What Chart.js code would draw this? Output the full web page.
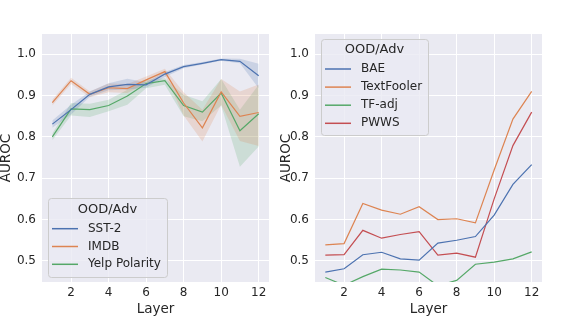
<!DOCTYPE html>
<html>
<head>
<meta charset="utf-8">
<script src="https://cdn.jsdelivr.net/npm/chart.js@4.4.0/dist/chart.umd.min.js"></script>
<style>
  body { margin: 0; background: #fff; }
  #wrap { position: relative; width: 568px; height: 318px; }
  canvas { position: absolute; top: 0; }
</style>
</head>
<body>
<div id="wrap">
  <canvas id="leftChart" width="284" height="318" style="left:0"></canvas>
  <canvas id="rightChart" width="288" height="318" style="left:280px"></canvas>
</div>
<script>
const layers = [1, 2, 3, 4, 5, 6, 7, 8, 9, 10, 11, 12];
const xTicks = [2, 4, 6, 8, 10, 12];
const yTicks = [0.5, 0.6, 0.7, 0.8, 0.9, 1.0];

// left panel: OOD datasets (mean + band)
const sst2   = [0.831, 0.866, 0.903, 0.921, 0.927, 0.926, 0.952, 0.970, 0.978, 0.987, 0.983, 0.948];
const sst2Lo = [0.822, 0.854, 0.897, 0.913, 0.915, 0.919, 0.945, 0.966, 0.975, 0.984, 0.978, 0.918];
const sst2Hi = [0.840, 0.878, 0.910, 0.930, 0.941, 0.932, 0.957, 0.974, 0.981, 0.990, 0.989, 0.977];
const imdb   = [0.883, 0.936, 0.903, 0.919, 0.917, 0.938, 0.958, 0.882, 0.822, 0.909, 0.850, 0.859];
const imdbLo = [0.876, 0.928, 0.896, 0.908, 0.906, 0.930, 0.950, 0.852, 0.789, 0.878, 0.790, 0.778];
const imdbHi = [0.890, 0.943, 0.910, 0.929, 0.928, 0.946, 0.965, 0.908, 0.866, 0.940, 0.910, 0.927];
const yelp   = [0.800, 0.868, 0.866, 0.876, 0.899, 0.929, 0.936, 0.876, 0.860, 0.906, 0.815, 0.856];
const yelpLo = [0.792, 0.852, 0.848, 0.862, 0.878, 0.918, 0.926, 0.850, 0.838, 0.876, 0.728, 0.777];
const yelpHi = [0.808, 0.882, 0.880, 0.890, 0.914, 0.938, 0.942, 0.902, 0.886, 0.940, 0.866, 0.926];

// right panel: adversarial attacks
const bae        = [0.473, 0.481, 0.515, 0.521, 0.505, 0.502, 0.543, 0.550, 0.559, 0.611, 0.685, 0.733];
const textFooler = [0.539, 0.542, 0.639, 0.623, 0.613, 0.631, 0.600, 0.602, 0.592, 0.720, 0.843, 0.910];
const tfAdj      = [0.460, 0.441, 0.462, 0.480, 0.478, 0.473, 0.440, 0.453, 0.492, 0.497, 0.505, 0.522];
const pwws       = [0.514, 0.515, 0.574, 0.555, 0.564, 0.571, 0.514, 0.519, 0.509, 0.650, 0.779, 0.860];

const leftNames = ['SST-2', 'IMDB', 'Yelp Polarity'];
const rightNames = ['BAE', 'TextFooler', 'TF-adj', 'PWWS'];

const colors = ['#4C72B0', '#DD8452', '#55A868', '#C44E52'];
const textColor = '#262626';
const FONT = "'DejaVu Sans', sans-serif";

function rgba(hex, a) {
    const n = parseInt(hex.slice(1), 16);
    return `rgba(${(n >> 16) & 255},${(n >> 8) & 255},${n & 255},${a})`;
}

function pts(vals) {
    return vals.map((v, i) => ({ x: layers[i], y: v }));
}

// paint the seaborn-like grey plot area
const areaBg = {
    id: 'areaBg',
    beforeDraw(chart) {
        const { ctx, chartArea: a } = chart;
        ctx.save();
        ctx.fillStyle = '#EAEAF2';
        ctx.fillRect(a.left, a.top, a.right - a.left, a.bottom - a.top);
        ctx.restore();
    }
};

// legend drawn inside the plot area, matplotlib style
const boxLegend = {
    id: 'boxLegend',
    afterDraw(chart, args, opts) {
        const { ctx } = chart;
        ctx.save();
        ctx.fillStyle = 'rgba(234,234,242,0.8)';
        ctx.strokeStyle = '#cccccc';
        ctx.lineWidth = 1;
        ctx.beginPath();
        ctx.roundRect(opts.x + 0.5, opts.y + 0.5, opts.w, opts.h, 3);
        ctx.fill();
        ctx.stroke();
        ctx.fillStyle = textColor;
        ctx.textBaseline = 'middle';
        ctx.textAlign = 'center';
        ctx.font = `13px ${FONT}`;
        ctx.fillText(opts.title, opts.x + opts.w / 2, opts.titleY);
        ctx.textAlign = 'left';
        ctx.font = `12px ${FONT}`;
        opts.items.forEach((name, i) => {
            const y = opts.firstY + i * opts.step;
            ctx.strokeStyle = colors[i];
            ctx.lineWidth = 1.5;
            ctx.beginPath();
            ctx.moveTo(opts.x + 4, y);
            ctx.lineTo(opts.x + 30, y);
            ctx.stroke();
            ctx.fillText(name, opts.x + 40, y);
        });
        ctx.restore();
    }
};

function makeChart(id, names, series, bands, axisWidth, padRight, legend) {
    const datasets = [];
    bands.forEach((b, i) => {
        const loIndex = datasets.length + 1;
        datasets.push({
            data: pts(b[1]), fill: loIndex, backgroundColor: rgba(colors[i], 0.2),
            borderWidth: 0, pointRadius: 0, clip: 0
        });
        datasets.push({ data: pts(b[0]), fill: false, borderWidth: 0, pointRadius: 0, clip: 0 });
    });
    series.forEach((s, i) => {
        datasets.push({
            label: names[i], data: pts(s), borderColor: colors[i], borderWidth: 1.2,
            pointRadius: 0, fill: false, tension: 0, clip: 0
        });
    });

    return new Chart(document.getElementById(id), {
        type: 'line',
        data: { datasets: datasets },
        options: {
            responsive: false,
            animation: false,
            layout: { padding: { top: 34, right: padRight, left: 0, bottom: 0 } },
            plugins: {
                legend: { display: false },
                tooltip: { enabled: false },
                filler: { drawTime: 'beforeDatasetsDraw' },
                boxLegend: legend
            },
            scales: {
                x: {
                    type: 'linear', min: 0.45, max: 12.55,
                    afterBuildTicks: s => { s.ticks = xTicks.map(v => ({ value: v })); },
                    afterFit: s => { s.height = 36; },
                    grid: { color: '#ffffff', lineWidth: 1, drawTicks: false },
                    border: { display: false },
                    ticks: { color: textColor, padding: 4, maxRotation: 0, font: { family: FONT, size: 12 },
                             callback: v => String(v) },
                    title: { display: true, text: 'Layer', color: textColor,
                             padding: { top: 0, bottom: 2 }, font: { family: FONT, size: 13.5, lineHeight: 1 } }
                },
                y: {
                    type: 'linear', min: 0.449, max: 1.049,
                    afterBuildTicks: s => { s.ticks = yTicks.map(v => ({ value: v })); },
                    afterFit: s => { s.width = axisWidth; },
                    grid: { color: '#ffffff', lineWidth: 1, drawTicks: false },
                    border: { display: false },
                    ticks: { color: textColor, padding: 6, font: { family: FONT, size: 12 },
                             callback: v => v.toFixed(1) },
                    title: { display: true, text: 'AUROC', color: textColor,
                             padding: { top: 0, bottom: 0 }, font: { family: FONT, size: 13.5, lineHeight: 1 } }
                }
            }
        },
        plugins: [areaBg, boxLegend]
    });
}

makeChart('leftChart', leftNames, [sst2, imdb, yelp],
    [[sst2Lo, sst2Hi], [imdbLo, imdbHi], [yelpLo, yelpHi]], 42, 15,
    { x: 48, y: 198, w: 119, h: 79, title: 'OOD/Adv', titleY: 210, firstY: 228.7, step: 17.8, items: leftNames });

makeChart('rightChart', rightNames, [bae, textFooler, tfAdj, pwws], [], 35, 26,
    { x: 41, y: 39, w: 107, h: 96, title: 'OOD/Adv', titleY: 50, firstY: 69, step: 18.1, items: rightNames });
</script>
</body>
</html>
